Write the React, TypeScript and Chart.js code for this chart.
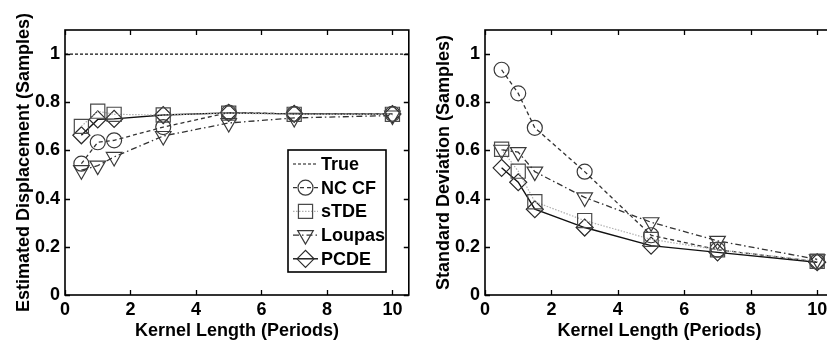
import React, { useEffect, useRef } from "react";
import { Chart, registerables } from "chart.js";
import { drawPoint } from "chart.js/helpers";

Chart.register(...registerables);

// Kernel lengths (periods) shared by every series
const kernelLengths = [0.5, 1, 1.5, 3, 5, 7, 10];

// Reference "True" displacement line
const trueSpan = [0, 10.5];
const trueDisplacement = [1, 1];

// Mean estimated displacement (samples)
const meanNccf = [0.545, 0.634, 0.642, 0.697, 0.757, 0.752, 0.752];
const meanStde = [0.700, 0.763, 0.750, 0.747, 0.755, 0.750, 0.750];
const meanLoupas = [0.518, 0.537, 0.573, 0.660, 0.714, 0.735, 0.745];
const meanPcde = [0.663, 0.729, 0.731, 0.747, 0.756, 0.752, 0.751];

// Standard deviation of the estimate (samples)
const sdNccf = [0.935, 0.837, 0.694, 0.512, 0.248, 0.188, 0.138];
const sdStde = [0.605, 0.514, 0.387, 0.309, 0.231, 0.188, 0.140];
const sdLoupas = [0.603, 0.593, 0.512, 0.405, 0.302, 0.225, 0.148];
const sdPcde = [0.528, 0.468, 0.356, 0.280, 0.205, 0.177, 0.136];

// Axis ticks and limits
const xTicks = [0, 2, 4, 6, 8, 10];
const yTicks = [0, 0.2, 0.4, 0.6, 0.8, 1];
const xRange = [0, 10.5];
const yRange = [0, 1.1];

const FONT = "'Liberation Sans', Arial, Helvetica, sans-serif";

type Style = {
  color: string;
  markerColor: string;
  dash: number[];
  width: number;
  pointStyle: any;
  rotation: number;
  radius: number;
};

const styles: Record<string, Style> = {
  True: { color: "#111", markerColor: "#111", dash: [3, 2], width: 1.2, pointStyle: false, rotation: 0, radius: 0 },
  "NC CF": { color: "#333", markerColor: "#3a3a3a", dash: [4, 3], width: 1.3, pointStyle: "circle", rotation: 0, radius: 7.5 },
  sTDE: { color: "#b0b0b0", markerColor: "#4a4a4a", dash: [1.5, 1.5], width: 1.2, pointStyle: "rect", rotation: 0, radius: 10 },
  Loupas: { color: "#333", markerColor: "#3a3a3a", dash: [6, 3, 1.5, 3], width: 1.3, pointStyle: "triangle", rotation: 180, radius: 9 },
  PCDE: { color: "#111", markerColor: "#2a2a2a", dash: [], width: 1.4, pointStyle: "rectRot", rotation: 0, radius: 8.5 },
};

const legendOrder = ["True", "NC CF", "sTDE", "Loupas", "PCDE"];

function toPoints(xs: number[], ys: number[]) {
  return xs.map((x, i) => ({ x, y: ys[i] }));
}

function dataset(label: string, xs: number[], ys: number[]) {
  const s = styles[label];
  return {
    label,
    data: toPoints(xs, ys),
    borderColor: s.color,
    borderWidth: s.width,
    borderDash: s.dash,
    backgroundColor: "rgba(0,0,0,0)",
    pointStyle: s.pointStyle,
    pointRotation: s.rotation,
    pointRadius: s.radius,
    pointHoverRadius: s.radius,
    pointBorderColor: s.markerColor,
    pointBackgroundColor: "rgba(0,0,0,0)",
    pointBorderWidth: 1.2,
    tension: 0,
    fill: false,
  };
}

// Box around the plot with inward ticks on all four sides
const framePlugin = {
  id: "frame",
  afterDraw(chart: any) {
    const { ctx, chartArea, scales } = chart;
    const { left, right, top, bottom } = chartArea;
    const len = 5;
    ctx.save();
    ctx.strokeStyle = "#000";
    ctx.lineWidth = 1.6;
    ctx.setLineDash([]);
    ctx.strokeRect(left, top, right - left, bottom - top);
    ctx.lineWidth = 1.3;
    ctx.beginPath();
    for (const t of scales.x.ticks) {
      const px = Math.round(scales.x.getPixelForValue(t.value)) + 0.5;
      ctx.moveTo(px, bottom);
      ctx.lineTo(px, bottom - len);
      ctx.moveTo(px, top);
      ctx.lineTo(px, top + len);
    }
    for (const t of scales.y.ticks) {
      const py = Math.round(scales.y.getPixelForValue(t.value)) + 0.5;
      ctx.moveTo(left, py);
      ctx.lineTo(left + len, py);
      ctx.moveTo(right, py);
      ctx.lineTo(right - len, py);
    }
    ctx.stroke();
    ctx.restore();
  },
};

// Boxed legend drawn inside the plot area
const boxLegendPlugin = {
  id: "boxLegend",
  afterDraw(chart: any, _args: any, opts: any) {
    if (!opts || !opts.display) return;
    const { ctx, chartArea } = chart;
    const x0 = chartArea.left + opts.offsetX;
    const y0 = chartArea.top + opts.offsetY;
    const w = opts.width;
    const h = opts.height;
    ctx.save();
    ctx.fillStyle = "#fff";
    ctx.fillRect(x0, y0, w, h);
    ctx.strokeStyle = "#000";
    ctx.lineWidth = 1.6;
    ctx.setLineDash([]);
    ctx.strokeRect(x0, y0, w, h);
    legendOrder.forEach((label, i) => {
      const s = styles[label];
      const cy = y0 + opts.firstRow + i * opts.rowGap;
      ctx.strokeStyle = s.color;
      ctx.lineWidth = s.width;
      ctx.setLineDash(s.dash);
      ctx.beginPath();
      ctx.moveTo(x0 + 5, cy);
      ctx.lineTo(x0 + 30, cy);
      ctx.stroke();
      ctx.setLineDash([]);
      if (s.pointStyle) {
        ctx.strokeStyle = s.markerColor;
        ctx.fillStyle = "rgba(0,0,0,0)";
        ctx.lineWidth = 1.2;
        drawPoint(
          ctx,
          { pointStyle: s.pointStyle, rotation: s.rotation, radius: s.radius, borderWidth: 1.2 },
          x0 + 17.5,
          cy
        );
      }
      ctx.fillStyle = "#000";
      ctx.font = `bold 18px ${FONT}`;
      ctx.textAlign = "left";
      ctx.textBaseline = "middle";
      ctx.fillText(label, x0 + 33, cy + 1);
    });
    ctx.restore();
  },
};

function makeConfig(datasets: any[], yTitle: string, padRight: number, showLegend: boolean) {
  const tickFont = { family: FONT, size: 18, weight: "bold" as const, lineHeight: 1.2 };
  return {
    type: "line" as const,
    data: { datasets },
    plugins: [framePlugin, boxLegendPlugin],
    options: {
      animation: false as const,
      responsive: false,
      events: [],
      layout: { padding: { left: 0, top: 30, right: padRight, bottom: 0 } },
      plugins: {
        legend: { display: false },
        tooltip: { enabled: false },
        boxLegend: {
          display: showLegend,
          offsetX: 223,
          offsetY: 120,
          width: 98,
          height: 122,
          firstRow: 14,
          rowGap: 23.7,
        },
      },
      scales: {
        x: {
          type: "linear" as const,
          min: xRange[0],
          max: xRange[1],
          afterBuildTicks: (scale: any) => {
            scale.ticks = xTicks.map((v) => ({ value: v }));
          },
          afterFit: (scale: any) => {
            scale.height = 53;
            scale.paddingLeft = 0;
            scale.paddingRight = 0;
          },
          grid: { display: false, drawTicks: false },
          border: { display: false },
          ticks: { padding: 4, color: "#000", font: tickFont, maxRotation: 0, callback: (v: any) => String(v) },
          title: {
            display: true,
            text: "Kernel Length (Periods)",
            color: "#000",
            font: tickFont,
            padding: { top: 0, bottom: 6 },
          },
        },
        y: {
          type: "linear" as const,
          min: yRange[0],
          max: yRange[1],
          afterBuildTicks: (scale: any) => {
            scale.ticks = yTicks.map((v) => ({ value: v }));
          },
          afterFit: (scale: any) => {
            scale.width = 65;
            scale.paddingTop = 0;
            scale.paddingBottom = 0;
          },
          grid: { display: false, drawTicks: false },
          border: { display: false },
          ticks: { padding: 5, color: "#000", font: tickFont, callback: (v: any) => String(v) },
          title: {
            display: true,
            text: yTitle,
            color: "#000",
            font: tickFont,
            padding: { top: 13, bottom: 0 },
          },
        },
      },
    },
  };
}

function PlotCanvas(props: { left: number; width: number; config: any }) {
  const ref = useRef<HTMLCanvasElement | null>(null);
  useEffect(() => {
    if (!ref.current) return;
    const chart = new Chart(ref.current, props.config);
    return () => chart.destroy();
  }, []);
  return (
    <div style={{ position: "absolute", left: props.left, top: 0, width: props.width, height: 348 }}>
      <canvas ref={ref} width={props.width} height={348} style={{ width: props.width, height: 348, display: "block" }} />
    </div>
  );
}

export default function App() {
  const meanConfig = makeConfig(
    [
      dataset("True", trueSpan, trueDisplacement),
      dataset("sTDE", kernelLengths, meanStde),
      dataset("Loupas", kernelLengths, meanLoupas),
      dataset("NC CF", kernelLengths, meanNccf),
      dataset("PCDE", kernelLengths, meanPcde),
    ],
    "Estimated Displacement (Samples)",
    5,
    true
  );
  const sdConfig = makeConfig(
    [
      dataset("sTDE", kernelLengths, sdStde),
      dataset("Loupas", kernelLengths, sdLoupas),
      dataset("NC CF", kernelLengths, sdNccf),
      dataset("PCDE", kernelLengths, sdPcde),
    ],
    "Standard Deviation (Samples)",
    9,
    false
  );
  return (
    <div
      style={{
        position: "fixed",
        left: 0,
        top: 0,
        width: 827,
        height: 348,
        overflow: "hidden",
        background: "#fff",
      }}
    >
      <PlotCanvas left={0} width={420} config={meanConfig} />
      <PlotCanvas left={420} width={425} config={sdConfig} />
    </div>
  );
}
